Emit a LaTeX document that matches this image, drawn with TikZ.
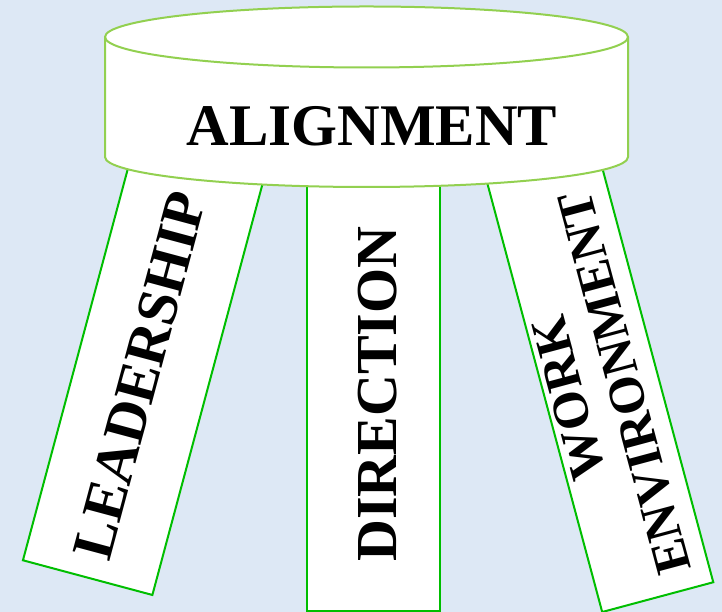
\documentclass[tikz,border=0pt]{standalone}
\usepackage{fontspec}
\setmainfont{Liberation Serif}
\definecolor{bgblue}{RGB}{221,232,245}
\definecolor{cylgreen}{RGB}{146,208,80}
\definecolor{leggreen}{RGB}{0,190,0}
\begin{document}
\begin{tikzpicture}[x=1pt,y=1pt,
  legbox/.style={draw=leggreen,fill=white,line width=2pt,rectangle,inner sep=0pt},
  bigtext/.style={font=\fontsize{58}{62}\selectfont\bfseries,inner sep=0pt,text=black},
  smalltext/.style={font=\fontsize{51}{58}\selectfont\bfseries,inner sep=0pt,text=black,align=center}]
\fill[bgblue] (0,0) rectangle (722,612);
\useasboundingbox (0,0) rectangle (722,612);
% legs
\node[legbox,minimum width=450pt,minimum height=134pt,rotate=75] (legL) at (145.9,251.7) {};
\node[legbox,minimum width=450pt,minimum height=133.3pt,rotate=90] (legM) at (373.3,226) {};
\node[legbox,minimum width=450pt,minimum height=115pt,rotate=105] (legR) at (599.5,232.2) {};
% cylinder seat
\path[draw=cylgreen,fill=white,line width=2pt,line join=round]
  (105pt,575pt) -- (105pt,455pt)
  arc[start angle=180,end angle=360,x radius=261.5pt,y radius=30pt]
  -- (628pt,575pt)
  arc[start angle=0,end angle=180,x radius=261.5pt,y radius=30.5pt] -- cycle;
\draw[cylgreen,line width=2pt]
  (105pt,575pt) arc[start angle=180,end angle=360,x radius=261.5pt,y radius=30.5pt];
\node[bigtext,font=\fontsize{59}{62}\selectfont\bfseries] (align) at (372,486) {ALIGNMENT};
% leg labels
\node[bigtext,rotate=75] (lead) at (140,237) {LEADERSHIP};
\node[bigtext,rotate=90] (dir) at (378,218) {DIRECTION};
\node[smalltext,rotate=105] (work) at (596.5,221.5) {WORK\\ENVIRONMENT};
\end{tikzpicture}
\end{document}
